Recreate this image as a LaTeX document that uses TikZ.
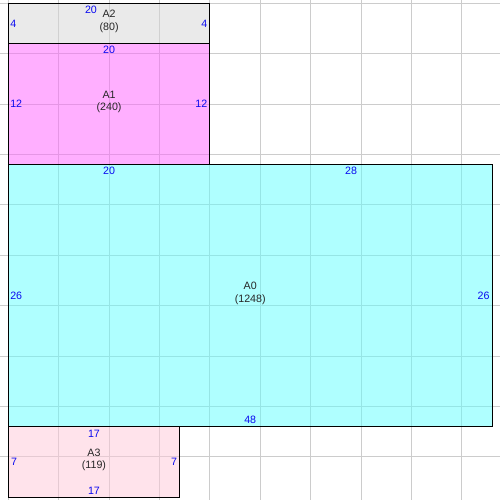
\documentclass[tikz,border=0pt]{standalone}
\usepackage{fontspec}
\setmainfont{Liberation Sans}
\usetikzlibrary{calc}
\definecolor{numblue}{RGB}{10,10,240}
\definecolor{gridgray}{RGB}{204,204,204}
\definecolor{fillA2}{RGB}{215,215,215}
\definecolor{fillA1}{RGB}{255,97,255}
\definecolor{fillA0}{RGB}{97,255,255}
\definecolor{fillA3}{RGB}{255,201,217}
\tikzset{
  gridline/.style={draw=gridgray, line width=0.75pt},
  areafill/.style={fill opacity=0.5},
  boxline/.style={draw=black, line width=0.75pt},
  num/.style={text=numblue, font=\fontsize{8}{9.5}\selectfont, inner sep=0pt},
  areaname/.style={align=center, font=\fontsize{8}{9.5}\selectfont, inner sep=0pt, text=black!85},
  ntop/.style={num, anchor=north, yshift=-1.6pt},
  nbot/.style={num, anchor=south, yshift=2pt},
  nleft/.style={num, anchor=west, xshift=1.3pt},
  nright/.style={num, anchor=east, xshift=-1.8pt}
}
\begin{document}
\begin{tikzpicture}[x=7.56pt,y=-7.56pt]
\useasboundingbox (-0.8234,-0.3274) rectangle (48.780,49.276);
\fill[white] (-0.8234,-0.3274) rectangle (48.780,49.276);
% grid
\foreach \k in {0,5,...,45} {
  \draw[gridline] (\k,-0.3274) -- (\k,49.276);
  \draw[gridline] (-0.8234,\k) -- (48.780,\k);
}
% area fills
\fill[fillA2, areafill] (0,0) rectangle (20,4);
\fill[fillA1, areafill] (0,4) rectangle (20,16);
\fill[fillA0, areafill] (0,16) rectangle (48,42);
\fill[fillA3, areafill] (0,42) rectangle (17,49);
% borders
\draw[boxline] (0,0) rectangle (20,4);
\draw[boxline] (0,4) rectangle (20,16);
\draw[boxline] (0,16) rectangle (48,42);
\draw[boxline] (0,42) rectangle (17,49);
% A2
\node[areaname, yshift=1.5pt] (a2name) at (10,2) {A2\\(80)};
\node[ntop] (a2top) at (8.2,0) {20};
\node[nleft] (a2left) at (0,2) {4};
\node[nright] (a2right) at (20,2) {4};
% A1
\node[areaname, yshift=1.5pt] (a1name) at (10,10) {A1\\(240)};
\node[ntop] (a1top) at (10,4) {20};
\node[nleft] (a1left) at (0,10) {12};
\node[nright] (a1right) at (20,10) {12};
% A0
\node[areaname, yshift=1.5pt] (a0name) at (24,29) {A0\\(1248)};
\node[ntop] (a0topa) at (10,16) {20};
\node[ntop] (a0topb) at (34,16) {28};
\node[nleft] (a0left) at (0,29) {26};
\node[nright] (a0right) at (48,29) {26};
\node[nbot] (a0bot) at (24,42) {48};
% A3
\node[areaname, yshift=1.5pt] (a3name) at (8.5,45.5) {A3\\(119)};
\node[ntop, yshift=-0.6pt] (a3top) at (8.5,42) {17};
\node[nbot] (a3bot) at (8.5,49) {17};
\node[nleft, xshift=0.6pt] (a3left) at (0,45.5) {7};
\node[nright] (a3right) at (17,45.5) {7};
\end{tikzpicture}
\end{document}
